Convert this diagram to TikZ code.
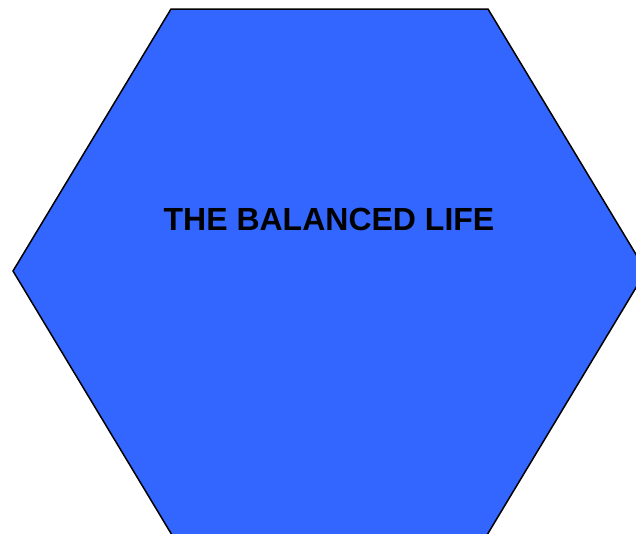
\documentclass[tikz,border=0pt]{standalone}
\usepackage{fontspec}
\setmainfont{Liberation Sans}
\definecolor{hexblue}{HTML}{3366FF}
\tikzset{hexface/.style={draw=black, line width=1.5pt, fill=hexblue, line join=miter}}
\begin{document}
\begin{tikzpicture}[x=1pt,y=-1pt]
\useasboundingbox (0,0) rectangle (636,533);
\begin{scope}
\clip (0,0) rectangle (636,533);
\draw[hexface] (171,9) -- (488,9) -- (646,271) -- (484,540) -- (175,540) -- (13,271) -- cycle;
\end{scope}
\node[font=\bfseries\fontsize{32}{38}\selectfont, text=black] (title) at (329,219) {THE BALANCED LIFE};
\end{tikzpicture}
\end{document}
